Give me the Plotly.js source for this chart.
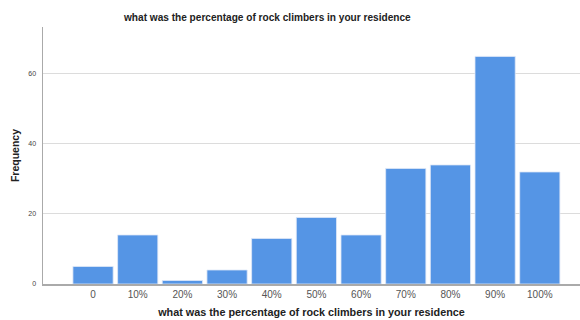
<!DOCTYPE html>
<html><head><meta charset="utf-8">
<script src="https://cdn.plot.ly/plotly-3.0.1.min.js"></script>
<style>html,body{margin:0;padding:0;background:#fff}#chart{width:580px;height:320px}</style>
</head><body><div id="chart"></div>
<script>
const categories = ["0","10%","20%","30%","40%","50%","60%","70%","80%","90%","100%"];
const frequency = [5,14,1,4,13,19,14,33,34,65,32];
const chartTitle = "what was the percentage of rock climbers in your residence";
const xTitle = "what was the percentage of rock climbers in your residence";
const yTitle = "Frequency";
const yTicks = [0,20,40,60];

const trace = {
  type: "bar", x: categories, y: frequency, width: 0.9,
  marker: {color: "#5595E5", line: {color: "#dfe9f7", width: 0.8}},
  hoverinfo: "none"
};
const layout = {
  width: 580, height: 320,
  margin: {l: 43, r: 0, t: 27, b: 36},
  paper_bgcolor: "#fff", plot_bgcolor: "#fff",
  showlegend: false,
  font: {family: "Liberation Sans, Arial, sans-serif", color: "#222"},
  xaxis: {
    type: "category", range: [-1.12, 10.9],
    showgrid: false, zeroline: false,
    showline: true, linecolor: "#aaa", linewidth: 1.5,
    ticks: "", tickfont: {size: 10, color: "#555"},
    title: {text: "<b>" + xTitle + "</b>", font: {size: 10.8, color: "#222"}, standoff: 10}
  },
  yaxis: {
    range: [0, 73.4], tickvals: yTicks, ticktext: yTicks.map(String),
    showgrid: true, gridcolor: "#dcdcdc", gridwidth: 1,
    zeroline: false, showline: true, linecolor: "#aaa", linewidth: 1.5,
    ticks: "", tickfont: {size: 7, color: "#444"}, ticklabelstandoff: 4,
    title: {text: "<b>" + yTitle + "</b>", font: {size: 10.5, color: "#222"}, standoff: 6}
  },
  annotations: [{
    text: "<b>" + chartTitle + "</b>", xref: "paper", yref: "paper",
    x: 0.417, y: 1, yshift: 10, xanchor: "center", yanchor: "middle",
    showarrow: false, font: {size: 10.1, color: "#222"}
  }]
};
Plotly.newPlot("chart", [trace], layout, {staticPlot: true, displayModeBar: false});
</script></body></html>
